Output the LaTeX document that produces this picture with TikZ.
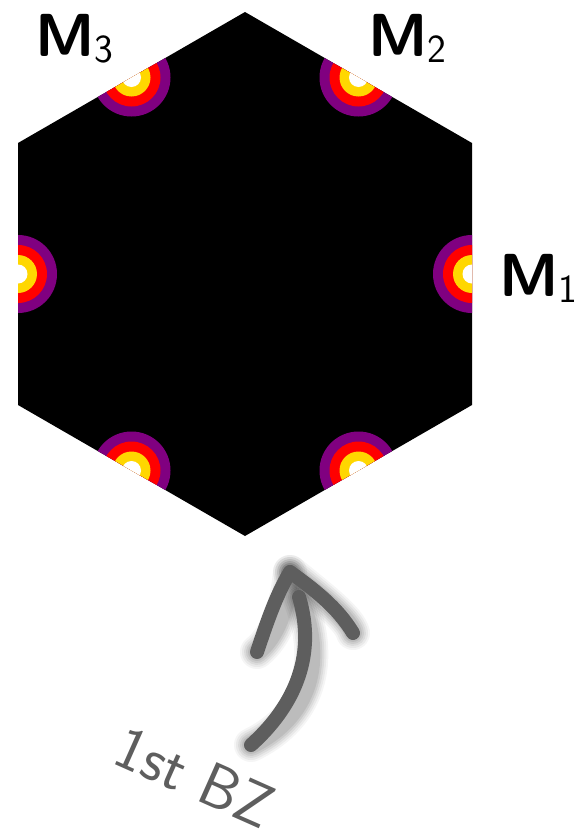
\documentclass[tikz,border=0pt]{standalone}
\usetikzlibrary{calc}
\definecolor{ringpurple}{HTML}{800080}
\definecolor{ringred}{HTML}{FF0000}
\definecolor{ringgold}{HTML}{FFD700}
\definecolor{brushgray}{HTML}{5E5E5E}
\begin{document}
\begin{tikzpicture}[x=1bp,y=-1bp,
  mlabel/.style={inner sep=0pt,font=\sffamily},
  brush/.style={draw=brushgray,line width=14bp,line cap=round},
  brushshadow/.style={draw=black,line cap=round},
  rings/.pic={
    \fill[ringpurple] (0,0) circle (39);
    \fill[ringred] (0,0) circle (29);
    \fill[ringgold] (0,0) circle (19);
    \fill[white] (0,0) circle (9.5);
  }]
\useasboundingbox (0,0) rectangle (584,839);
% hexagon (first Brillouin zone)
\coordinate (V1) at (245,12);
\coordinate (V2) at (472,143);
\coordinate (V3) at (472,405);
\coordinate (V4) at (245,536);
\coordinate (V5) at (18,405);
\coordinate (V6) at (18,143);
\fill[black] (V1) -- (V2) -- (V3) -- (V4) -- (V5) -- (V6) -- cycle;
\coordinate (P1) at (472,274);
\coordinate (P2) at ($(V1)!0.5!(V2)$);
\coordinate (P3) at ($(V6)!0.5!(V1)$);
\coordinate (P4) at (18,274);
\coordinate (P5) at ($(V4)!0.5!(V5)$);
\coordinate (P6) at ($(V3)!0.5!(V4)$);
\begin{scope}
  \clip (V1) -- (V2) -- (V3) -- (V4) -- (V5) -- (V6) -- cycle;
  \foreach \p in {P1,P2,P3,P4,P5,P6} { \pic at (\p) {rings}; }
\end{scope}
% labels
\node[mlabel,anchor=base west] (M1) at (499,296) {\fontsize{61}{61}\selectfont\bfseries M\raisebox{-6bp}{\fontsize{40}{40}\selectfont\mdseries 1}};
\node[mlabel,anchor=base west] (M2) at (368,56) {\fontsize{61}{61}\selectfont\bfseries M\raisebox{-6bp}{\fontsize{40}{40}\selectfont\mdseries 2}};
\node[mlabel,anchor=base west] (M3) at (35,56) {\fontsize{61}{61}\selectfont\bfseries M\raisebox{-6bp}{\fontsize{40}{40}\selectfont\mdseries 3}};
% arrow coordinates
\coordinate (S0) at (251,745);
\coordinate (S1) at (299,597);
\coordinate (T) at (290,572);
\coordinate (L0) at (257,652);
\coordinate (R0) at (353,633);
% blurred shadow
\foreach \w/\o in {34/0.04,30/0.05,26/0.06,22/0.07,18/0.08} {
  \begin{scope}[shift={(11,11)},opacity=\o]
    \draw[brushshadow,line width=\w bp] (S0) .. controls (290,710) and (318,660) .. (S1);
    \draw[brushshadow,line width=\w bp] (L0) .. controls (266,625) and (276,595) .. (T);
    \draw[brushshadow,line width=\w bp] (T) .. controls (315,590) and (338,608) .. (R0);
  \end{scope}
}
% brush arrow
\draw[brush] (S0) .. controls (290,710) and (318,660) .. (S1);
\draw[brush] (L0) .. controls (266,625) and (276,595) .. (T);
\draw[brush] (T) .. controls (315,590) and (338,608) .. (R0);
% caption
\node[font=\sffamily,text=brushgray,rotate=-24,inner sep=0pt] (BZ) at (195,777) {\fontsize{62}{62}\selectfont 1st BZ};
\end{tikzpicture}
\end{document}
